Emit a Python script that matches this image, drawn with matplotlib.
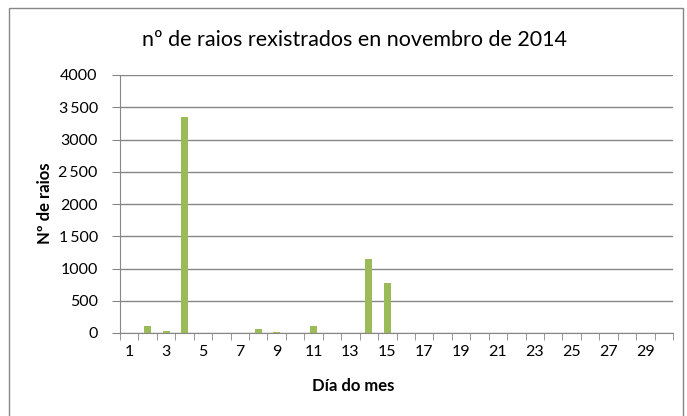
import numpy as np
import matplotlib as mpl
import matplotlib.pyplot as plt
from matplotlib.patches import Rectangle

mpl.rcParams['font.family'] = ['Lato', 'DejaVu Sans']

# Lightning strikes per day, November 2014
days = np.arange(1, 31)
strikes = [0, 115, 35, 3350, 0, 0, 0, 67, 20, 0,
           115, 0, 0, 1150, 770, 0, 0, 0, 0, 0,
           0, 0, 0, 0, 0, 0, 0, 0, 0, 0]
yticks = [0, 500, 1000, 1500, 2000, 2500, 3000, 3500, 4000]
ylabels = ["0", "500", "1000", "1\u2009500", "2000", "2\u2009500", "3000", "3\u2009500", "4000"]

grey = "#868686"
green = "#9BBB59"

fig = plt.figure(figsize=(6.87, 4.16), dpi=100)
# outer chart border
fig.patches.append(Rectangle((9 / 687, -0.05), 674 / 687, 1 - 8 / 416 + 0.05,
                             transform=fig.transFigure, fill=False,
                             edgecolor=grey, linewidth=1.0))

ax = fig.add_axes([120 / 687, 1 - 333 / 416, 553 / 687, 258 / 416])
ax.bar(days, strikes, width=0.38, color=green, zorder=3)

ax.set_xlim(0.5, 30.5)
ax.set_ylim(0, 4000)
ax.set_yticks(yticks)
ax.set_yticklabels(ylabels)
ax.set_xticks(days[::2])
ax.set_xticks(np.arange(0.5, 31, 1), minor=True)
ax.tick_params(axis='x', which='major', length=0, pad=9, labelsize=11.5)
ax.tick_params(axis='x', which='minor', length=5, color=grey, direction='out')
ax.tick_params(axis='y', length=6, color=grey, labelsize=11.5, pad=10)
ax.yaxis.grid(True, color=grey, linewidth=1.0, zorder=0)

for side in ['top', 'right']:
    ax.spines[side].set_visible(False)
ax.spines['left'].set_color(grey)
ax.spines['bottom'].set_color(grey)

fig.text(354 / 687, 1 - 40 / 416, "nº de raios rexistrados en novembro de 2014",
         fontsize=15.5, ha='center', va='center')
ax.set_xlabel("Día do mes", fontsize=12, fontweight='bold')
ax.xaxis.set_label_coords((353 - 120) / 553, -(386 - 333) / 258)
ax.xaxis.label.set_va('center')
ax.set_ylabel("Nº de raios", fontsize=12, fontweight='bold')
ax.yaxis.set_label_coords(-(120 - 45) / 553, (333 - 203) / 258)
ax.yaxis.label.set_va('center')

fig.savefig("out.png", dpi=100)
